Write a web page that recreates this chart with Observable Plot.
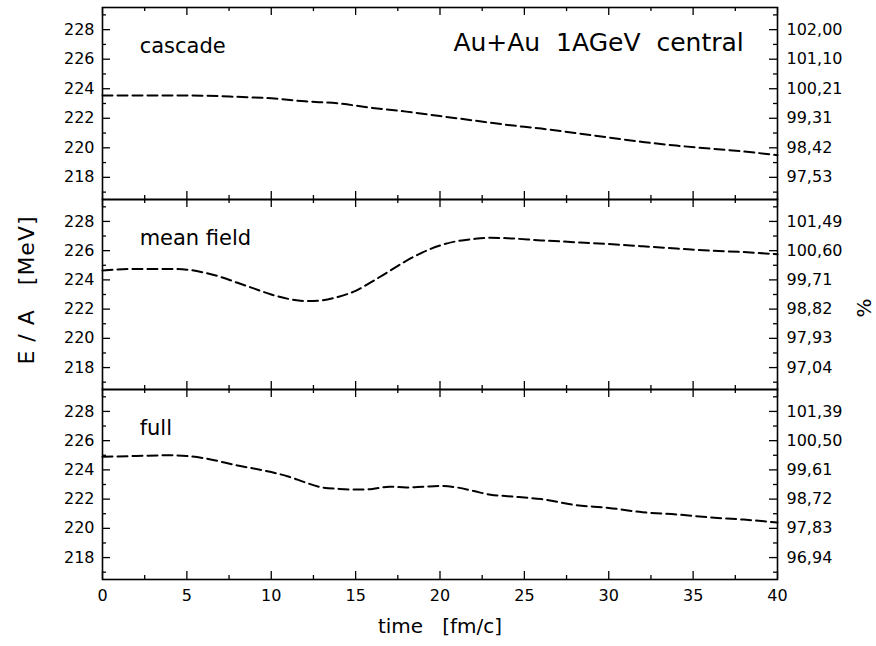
<!DOCTYPE html>
<html>
<head>
<meta charset="utf-8">
<script src="https://cdn.jsdelivr.net/npm/d3@7"></script>
<script src="https://cdn.jsdelivr.net/npm/@observablehq/plot@0.6"></script>
<style>
  html, body { margin: 0; padding: 0; background: #fff; }
  #chart { position: relative; width: 876px; height: 646px; font-family: "DejaVu Sans", sans-serif; color: #000; overflow: hidden; }
  #chart svg { position: absolute; left: 0; overflow: visible; }
  .vlabel { position: absolute; white-space: pre; line-height: 1; transform: translate(-50%, -50%) rotate(-90deg); transform-origin: center; }
</style>
</head>
<body>
<div id="chart"></div>
<script>
// ---- data ----
const cascadeT = [0, 2, 4, 6, 8, 10, 12, 14, 16, 18, 20, 22, 24, 26, 28, 30, 32, 34, 36, 38, 40];
const cascadeE = [223.55, 223.55, 223.55, 223.53, 223.45, 223.35, 223.15, 223.0, 222.7, 222.45, 222.15, 221.85, 221.55, 221.3, 221.0, 220.7, 220.4, 220.15, 219.95, 219.75, 219.5];

const meanT = [0, 2, 4, 5, 6, 7, 8, 9, 10, 11, 12, 13, 14, 15, 16, 17, 18, 19, 20, 21, 22, 23, 24, 26, 28, 30, 32, 34, 36, 38, 40];
const meanE = [224.65, 224.75, 224.75, 224.7, 224.5, 224.2, 223.8, 223.4, 223.0, 222.7, 222.55, 222.6, 222.85, 223.25, 223.9, 224.6, 225.3, 225.9, 226.35, 226.65, 226.8, 226.88, 226.85, 226.7, 226.58, 226.45, 226.3, 226.15, 226.0, 225.9, 225.75];

const fullT = [0, 2, 4, 5, 6, 8, 10, 11, 12, 13, 14, 15, 16, 17, 18, 19, 20, 21, 22, 23, 24, 26, 28, 30, 32, 34, 36, 38, 40];
const fullE = [224.9, 224.95, 225.0, 224.95, 224.8, 224.3, 223.85, 223.55, 223.15, 222.8, 222.7, 222.65, 222.7, 222.85, 222.8, 222.85, 222.9, 222.8, 222.55, 222.3, 222.2, 222.0, 221.6, 221.4, 221.1, 220.95, 220.75, 220.6, 220.4];

const yTicks = [218, 220, 222, 224, 226, 228];
const yMinor = [217, 219, 221, 223, 225, 227, 229];
const xTicks = [0, 5, 10, 15, 20, 25, 30, 35, 40];
const xMinor = [2.5, 7.5, 12.5, 17.5, 22.5, 27.5, 32.5, 37.5];

const cascadeRight = ["97,53", "98,42", "99,31", "100,21", "101,10", "102,00"];
const meanRight = ["97,04", "97,93", "98,82", "99,71", "100,60", "101,49"];
const fullRight = ["96,94", "97,83", "98,72", "99,61", "100,50", "101,39"];

const panelNames = ["cascade", "mean field", "full"];
const titleText = "Au+Au\u00a0\u00a01AGeV\u00a0\u00a0central";
const xLabel = "time\u00a0\u00a0\u00a0[fm/c]";
const yLabel = "E / A   [MeV]";
const rightLabel = "%";

// ---- layout ----
const W = 876, ML = 102, MR = 99;
const FW = W - ML - MR;
const yDomain = [216.5, 229.5];

function zip(t, e) { return t.map((d, i) => ({t: d, e: e[i]})); }

function panel({data, right, name, top, mt, mb, ph, showX = false, extra = []}) {
  const rmap = new Map(yTicks.map((d, i) => [d, right[i]]));
  const svg = Plot.plot({
    width: W,
    height: mt + ph + mb,
    marginLeft: ML, marginRight: MR, marginTop: mt, marginBottom: mb,
    x: showX ? {domain: [0, 40]} : {domain: [0, 40], axis: null},
    y: {domain: yDomain, axis: null},
    style: {fontFamily: "DejaVu Sans, sans-serif", fontSize: "16px", color: "#000", background: "transparent", overflow: "visible"},
    marks: [
      Plot.axisY(yTicks, {anchor: "left", tickSize: 0, tickPadding: 8, label: null, fontSize: 16}),
      Plot.axisY(yTicks, {anchor: "right", tickSize: 0, tickPadding: 9, label: null, fontSize: 16, tickFormat: d => rmap.get(d)}),
      // inward ticks, left and right
      Plot.ruleY(yTicks, {insetRight: FW - 8, stroke: "#000", strokeWidth: 1.3}),
      Plot.ruleY(yMinor, {insetRight: FW - 4, stroke: "#000", strokeWidth: 1.3}),
      Plot.ruleY(yTicks, {insetLeft: FW - 8, stroke: "#000", strokeWidth: 1.3}),
      Plot.ruleY(yMinor, {insetLeft: FW - 4, stroke: "#000", strokeWidth: 1.3}),
      // inward ticks, top and bottom
      Plot.ruleX(xTicks, {insetTop: ph - 8, stroke: "#000", strokeWidth: 1.3}),
      Plot.ruleX(xMinor, {insetTop: ph - 4, stroke: "#000", strokeWidth: 1.3}),
      Plot.ruleX(xTicks, {insetBottom: ph - 8, stroke: "#000", strokeWidth: 1.3}),
      Plot.ruleX(xMinor, {insetBottom: ph - 4, stroke: "#000", strokeWidth: 1.3}),
      Plot.frame({stroke: "#000", strokeWidth: 1.6}),
      Plot.line(data, {x: "t", y: "e", stroke: "#000", strokeWidth: 2, strokeDasharray: "10,5", curve: "monotone-x"}),
      Plot.text([name], {x: 2.2, y: 226.85, textAnchor: "start", fontSize: 21, fill: "#000"}),
      ...extra
    ]
  });
  svg.style.top = top + "px";
  return svg;
}

const chart = document.getElementById("chart");

chart.appendChild(panel({
  data: zip(cascadeT, cascadeE), right: cascadeRight, name: panelNames[0],
  top: 0, mt: 7, mb: 0, ph: 192,
  extra: [Plot.text([titleText], {x: 38.0, y: 227.1, textAnchor: "end", fontSize: 25, fill: "#000"})]
}));

chart.appendChild(panel({
  data: zip(meanT, meanE), right: meanRight, name: panelNames[1],
  top: 199, mt: 0, mb: 0, ph: 190
}));

chart.appendChild(panel({
  data: zip(fullT, fullE), right: fullRight, name: panelNames[2],
  top: 389, mt: 0, mb: 67, ph: 190, showX: true,
  extra: [
    Plot.axisX(xTicks, {anchor: "bottom", tickSize: 0, tickPadding: 10, label: null, fontSize: 16}),
    Plot.text([xLabel], {frameAnchor: "bottom", dy: 53, fontSize: 20, fill: "#000"})
  ]
}));

const yl = document.createElement("div");
yl.className = "vlabel";
yl.textContent = yLabel;
yl.style.cssText += "left:27px;top:290px;font-size:22px;letter-spacing:1px;";
chart.appendChild(yl);

const pl = document.createElement("div");
pl.className = "vlabel";
pl.textContent = rightLabel;
pl.style.cssText += "left:864px;top:308px;font-size:20px;";
chart.appendChild(pl);
</script>
</body>
</html>
